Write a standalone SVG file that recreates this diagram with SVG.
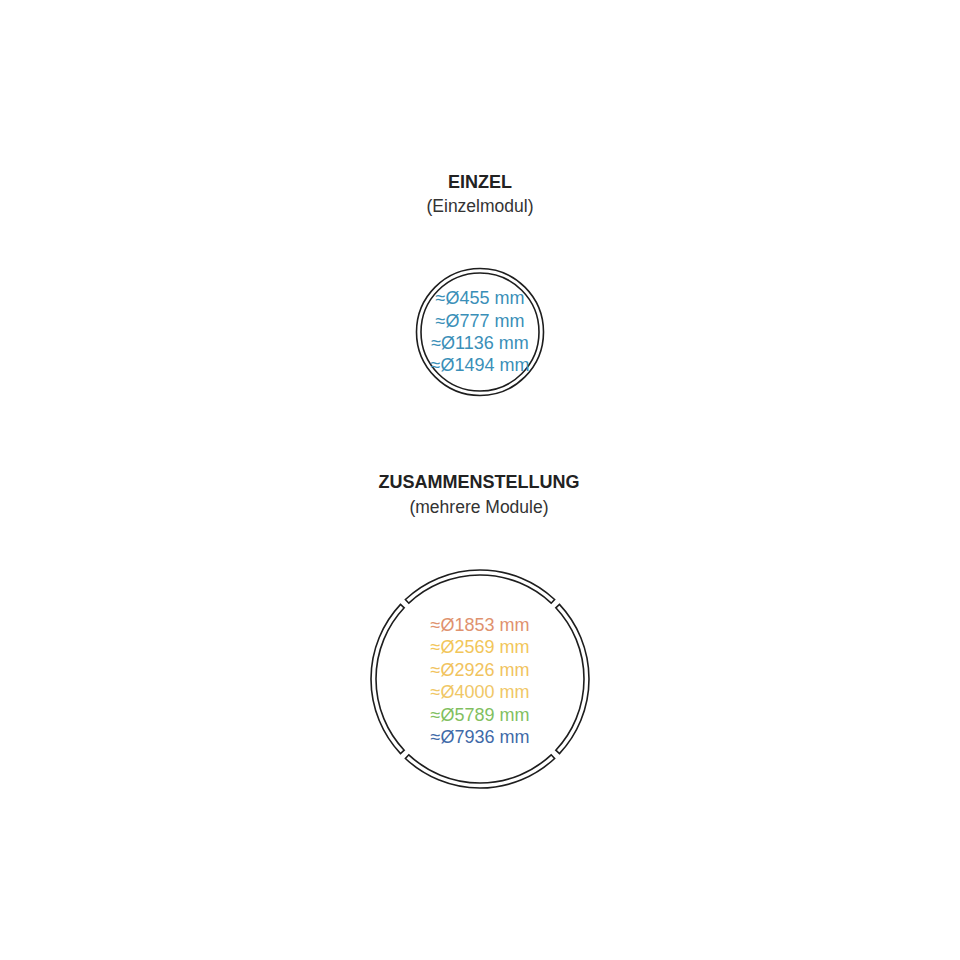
<svg xmlns="http://www.w3.org/2000/svg" width="960" height="960" viewBox="0 0 960 960">
<style>
.title{font-family:"Liberation Sans",Arial,sans-serif;font-weight:bold;font-size:18px;fill:#222;text-anchor:middle}
.sub{font-family:"Liberation Sans",Arial,sans-serif;font-size:17.5px;fill:#333;text-anchor:middle}
.dim{font-family:"Liberation Sans",Arial,sans-serif;font-size:18px;text-anchor:middle}
.ring{fill:none;stroke:#1e1e1e;stroke-width:1.6}
</style>
<rect width="960" height="960" fill="#ffffff"/>
<g id="einzel-heading">
<text class="title" x="480" y="187.5">EINZEL</text>
<text class="sub" x="480" y="212">(Einzelmodul)</text>
</g>
<g id="einzel-circle">
<circle class="ring" cx="480" cy="332" r="63.5"/>
<circle class="ring" cx="480" cy="332" r="59"/>
<g fill="#3a8fb8">
<text class="dim" x="480" y="303.5">≈Ø455 mm</text>
<text class="dim" x="480" y="326.5">≈Ø777 mm</text>
<text class="dim" x="480" y="348.5">≈Ø1136 mm</text>
<text class="dim" x="480" y="370.5">≈Ø1494 mm</text>
</g>
</g>
<g id="zusammenstellung-heading">
<text class="title" x="479" y="487.5">ZUSAMMENSTELLUNG</text>
<text class="sub" x="479" y="513">(mehrere Module)</text>
</g>
<g id="zusammenstellung-circle">
<path class="ring" d="M405.39,599.54 A109,109 0 0 1 554.61,599.54 L551.19,603.18 A104,104 0 0 0 408.81,603.18 Z"/>
<path class="ring" d="M400.54,604.39 A109,109 0 0 0 400.54,753.61 L404.18,750.19 A104,104 0 0 1 404.18,607.81 Z"/>
<path class="ring" d="M554.61,758.46 A109,109 0 0 1 405.39,758.46 L408.81,754.82 A104,104 0 0 0 551.19,754.82 Z"/>
<path class="ring" d="M559.46,604.39 A109,109 0 0 1 559.46,753.61 L555.82,750.19 A104,104 0 0 0 555.82,607.81 Z"/>
<text class="dim" x="480" y="630.5" fill="#e0926e">≈Ø1853 mm</text>
<text class="dim" x="480" y="652.5" fill="#f2c65a">≈Ø2569 mm</text>
<text class="dim" x="480" y="675.5" fill="#f1c35e">≈Ø2926 mm</text>
<text class="dim" x="480" y="697.5" fill="#f0c766">≈Ø4000 mm</text>
<text class="dim" x="480" y="720.5" fill="#82bf5f">≈Ø5789 mm</text>
<text class="dim" x="480" y="742.5" fill="#3f6aa8">≈Ø7936 mm</text>
</g>
</svg>
